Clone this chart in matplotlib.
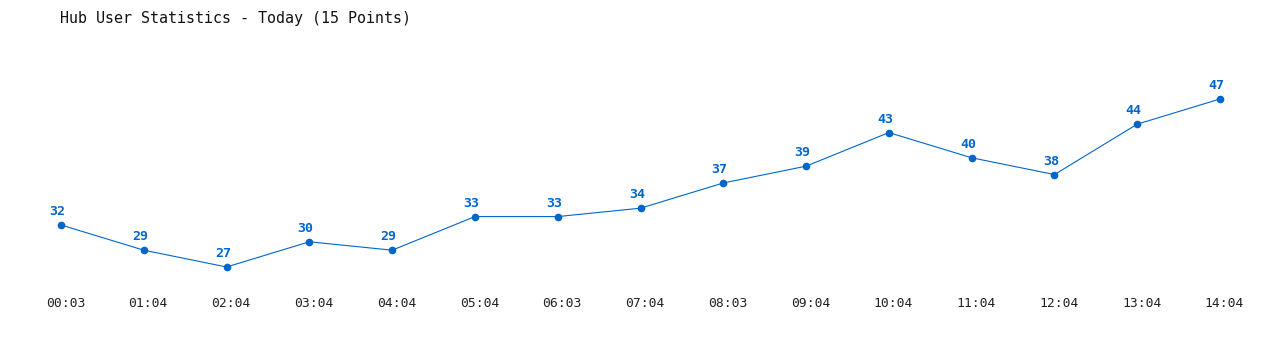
import matplotlib
matplotlib.use("Agg")
import matplotlib.pyplot as plt
import matplotlib.transforms as mtransforms

# data
times = ["00:03", "01:04", "02:04", "03:04", "04:04", "05:04", "06:03", "07:04",
         "08:03", "09:04", "10:04", "11:04", "12:04", "13:04", "14:04"]
users = [32, 29, 27, 30, 29, 33, 33, 34, 37, 39, 43, 40, 38, 44, 47]

blue = "#0066cc"
W, H = 1280, 350

fig = plt.figure(figsize=(W / 100, H / 100), dpi=100)
fig.patch.set_facecolor("white")

# axes placed in pixel terms: first point x=61, last x=1220, plot area y 40..290
ax = fig.add_axes([61 / W, (H - 290) / H, (1220 - 61) / W, 250 / H])
ax.set_xlim(0, len(times) - 1)
ax.set_ylim(24.26, 54.02)

x = list(range(len(times)))
ax.plot(x, users, color=blue, linewidth=0.8, marker="o", markersize=4.5,
        markerfacecolor=blue, markeredgecolor=blue, clip_on=False)

# value labels sit a little left of the points in the original
for xi, v in zip(x, users):
    ax.annotate(str(v), (xi, v), xytext=(-2.6, 9.5), textcoords="offset points",
                ha="center", va="center", color=blue, fontsize=9.5,
                fontweight="bold", family="DejaVu Sans Mono")

ax.set_xticks(x)
ax.set_xticklabels(times, family="DejaVu Sans Mono", fontsize=9.4, color="#222222")
ax.tick_params(axis="x", length=0, pad=5)
# time labels are shifted a few px right of the points
shift = mtransforms.ScaledTranslation(4.5 / 100, 0, fig.dpi_scale_trans)
for lbl in ax.get_xticklabels():
    lbl.set_transform(lbl.get_transform() + shift)
ax.set_yticks([])
for s in ax.spines.values():
    s.set_visible(False)
ax.patch.set_alpha(0)

fig.text(60 / W, 1 - 18 / H, "Hub User Statistics - Today (15 Points)",
         family="DejaVu Sans Mono", fontsize=10.8, color="#111111",
         ha="left", va="center")

fig.savefig("out.png", dpi=100)
